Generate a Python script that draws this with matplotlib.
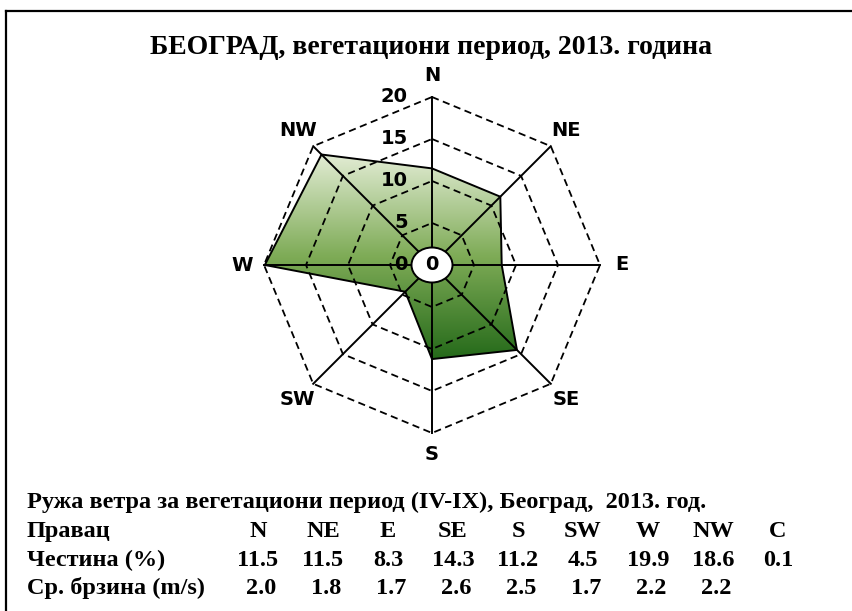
import numpy as np
import matplotlib
matplotlib.use("Agg")
import matplotlib.pyplot as plt
from matplotlib.colors import LinearSegmentedColormap
from matplotlib.patches import Polygon, Ellipse
from matplotlib.lines import Line2D

directions = ["N", "NE", "E", "SE", "S", "SW", "W", "NW"]
frequency = [11.5, 11.5, 8.3, 14.3, 11.2, 4.5, 19.9, 18.6]
calm = 0.1
speed = [2.0, 1.8, 1.7, 2.6, 2.5, 1.7, 2.2, 2.2]
rings = [5, 10, 15, 20]
ring_labels = ["0", "5", "10", "15", "20"]

title = "БЕОГРАД, вегетациони период, 2013. година"
table_title = "Ружа ветра за вегетациони период (IV-IX), Београд,  2013. год."
row_names = ["Правац", "Честина (%)", "Ср. брзина (m/s)"]

W, H = 853, 611
cx, cy, scale = 432, 265, 8.4  # pixel centre of the rose and pixels per unit

fig = plt.figure(figsize=(W / 100, H / 100), dpi=100)
ax = fig.add_axes([0, 0, 1, 1])
ax.set_xlim(-cx / scale, (W - cx) / scale)
ax.set_ylim(-(H - cy) / scale, cy / scale)
ax.axis("off")

ang = np.deg2rad(np.arange(len(directions)) * 45.0)
ux, uy = np.sin(ang), np.cos(ang)

# data polygon with vertical gradient fill
px = np.array(frequency) * ux
py = np.array(frequency) * uy
poly = Polygon(np.column_stack([px, py]), closed=True, facecolor="none",
               edgecolor="black", lw=1.4, zorder=4)
ax.add_patch(poly)
cmap = LinearSegmentedColormap.from_list(
    "rose", [(0, "#256a1a"), (0.5, "#7eab56"), (1, "#e2ecd4")])
grad = np.linspace(0, 1, 256).reshape(-1, 1)
img = ax.imshow(grad, cmap=cmap, origin="lower", aspect="auto",
                extent=[px.min(), px.max(), py.min(), py.max()], zorder=2)
clip = Polygon(np.column_stack([px, py]), closed=True, transform=ax.transData)
img.set_clip_path(clip)

# octagonal dashed rings
for r in rings:
    ax.plot(np.append(r * ux, r * ux[0]), np.append(r * uy, r * uy[0]),
            color="black", lw=1.3, ls=(0, (4, 2.5)), zorder=3)

# spokes
for x, y in zip(ux, uy):
    ax.plot([0, 20 * x], [0, 20 * y], color="black", lw=1.4, zorder=5)

ax.add_patch(Ellipse((0, 0), 41 / scale, 35 / scale, facecolor="white",
                     edgecolor="black", lw=1.4, zorder=6))

lkw = dict(fontsize=14, fontweight="bold", family="DejaVu Sans", zorder=7)
ax.text(0, 0, "0", ha="center", va="center", **lkw)

for lab, r in zip(ring_labels, [0] + rings):
    ax.text(-2.9, r, lab, ha="right", va="center", **lkw)

for lab, x, y in zip(directions, ux, uy):
    ax.text(22.6 * x, 22.6 * y, lab, ha="center", va="center", **lkw)

# title and table
def fx(p):
    return p / W

def fy(p):
    return 1 - p / H

fig.text(fx(431), fy(54), title, ha="center", va="baseline", fontsize=20,
         fontweight="bold", family="Liberation Serif")

tkw = dict(fontsize=17.5, fontweight="bold", family="Liberation Serif", va="baseline")
fig.text(fx(27), fy(508), table_title, ha="left", **tkw)
baselines = [537, 566, 594]
for name, b in zip(row_names, baselines):
    fig.text(fx(27), fy(b), name, ha="left", **tkw)

col_x = [258, 323, 388, 453, 518, 583, 648, 713, 778]
for lab, x in zip(directions + ["C"], col_x):
    fig.text(fx(x), fy(baselines[0]), lab, ha="center", **tkw)
for v, x in zip(frequency + [calm], col_x):
    fig.text(fx(x), fy(baselines[1]), f"{v:.1f}", ha="center", **tkw)
for v, x in zip(speed, col_x):
    fig.text(fx(x + 3), fy(baselines[2]), f"{v:.1f}", ha="center", **tkw)

# frame lines (top and left only visible)
fig.add_artist(Line2D([fx(6.5), 1], [fy(11), fy(11)], color="black", lw=1.6))
fig.add_artist(Line2D([fx(6.5), fx(6.5)], [fy(11), 0], color="black", lw=1.6))

fig.savefig("out.png", dpi=100)
